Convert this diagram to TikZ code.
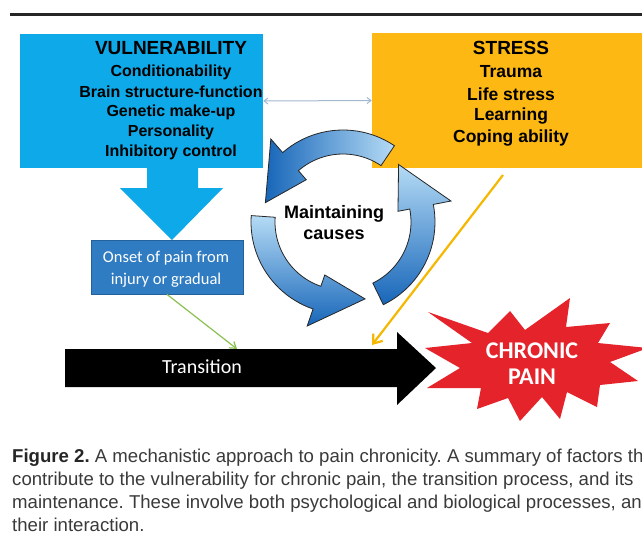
\documentclass[tikz,border=0pt]{standalone}
\usepackage{fontspec}
\setmainfont{Liberation Sans}
\newfontfamily\cali{Carlito}
\newfontfamily\capfont{Liberation Sans}
\usetikzlibrary{arrows.meta}
\definecolor{vblue}{HTML}{0DA9E8}
\definecolor{sorange}{HTML}{FDB814}
\definecolor{oblue}{HTML}{2F7CC2}
\definecolor{oborder}{HTML}{24609A}
\definecolor{cdark}{HTML}{1766B9}
\definecolor{clight}{HTML}{B5DBF5}
\definecolor{cred}{HTML}{E5232B}
\definecolor{gline}{HTML}{8CC152}
\definecolor{oline}{HTML}{F5B700}
\definecolor{dblue}{HTML}{A3B8CE}
\definecolor{captext}{HTML}{3A3A3A}
\newcommand\circarrow[2]{%
  \pgfmathsetmacro\aA{#1}\pgfmathsetmacro\aB{#1-75}\pgfmathsetmacro\aC{#1-110}%
  \shadedraw[#2, draw=black!85, line width=0.8pt, line join=miter]
    plot[domain=\aA:\aB, samples=25] ({343+92*cos(\x)},{222+92*sin(\x)})
    -- ({343+110*cos(\aB)},{222+110*sin(\aB)})
    -- ({343+80*cos(\aC)},{222+80*sin(\aC)})
    -- ({343+56*cos(\aB)},{222+56*sin(\aB)})
    -- plot[domain=\aB:\aA, samples=25] ({343+68*cos(\x)},{222+68*sin(\x)})
    -- cycle;}
\tikzset{
  boxtxt/.style={font=\bfseries\fontsize{16}{16}\selectfont, inner sep=0pt, anchor=center},
  boxtitle/.style={font=\bfseries\fontsize{19}{19}\selectfont, inner sep=0pt, anchor=center},
  stxt/.style={font=\bfseries\fontsize{17.5}{17.5}\selectfont, inner sep=0pt, anchor=center},
  captxt/.style={font=\capfont\fontsize{18.6}{18.6}\selectfont, text=captext, inner sep=0pt, anchor=base west},
}
\frenchspacing
\begin{document}
\begin{tikzpicture}[x=1pt,y=-1pt]
\useasboundingbox (0,0) rectangle (642,544);
\clip (0,0) rectangle (642,544);
\fill[white] (0,0) rectangle (642,544);
% top rule
\draw[line width=3pt, black!85] (10,14) -- (660,14);
% boxes
\node[fill=vblue, minimum width=243pt, minimum height=134pt, inner sep=0pt] (vuln) at (141.5,101) {};
\node[fill=sorange, minimum width=290pt, minimum height=135pt, inner sep=0pt] (stress) at (517,100.5) {};
\node[boxtitle] (v0) at (171,48) {VULNERABILITY};
\node[boxtxt] (v1) at (171,72) {Conditionability};
\node[boxtxt] (v2) at (171,92) {Brain structure-function};
\node[boxtxt] (v3) at (171,112) {Genetic make-up};
\node[boxtxt] (v4) at (171,132) {Personality};
\node[boxtxt] (v5) at (171,152) {Inhibitory control};
\node[boxtitle] (s0) at (511,48) {STRESS};
\node[stxt] (s1) at (511,72) {Trauma};
\node[stxt] (s2) at (511,94) {Life stress};
\node[stxt] (s3) at (511,116) {Learning};
\node[stxt] (s4) at (511,138) {Coping ability};
% double arrow between boxes
\draw[dblue, line width=1pt, {Straight Barb[length=4pt,width=6pt]}-{Straight Barb[length=4pt,width=6pt]}] (vuln.east) -- (stress.west);
% blue down arrow
\fill[vblue] (147,166) -- (198,166) -- (198,188) -- (223,188) -- (172,240) -- (120,188) -- (147,188) -- cycle;
% onset box
\node[fill=oblue, draw=oborder, line width=0.8pt, minimum width=152pt, minimum height=54pt, inner sep=0pt] (onset) at (167,267) {};
\node[font=\cali\fontsize{16.5}{22}\selectfont, text=white, align=center, inner sep=0pt] (onsettxt) at (166,269) {Onset of pain from\\injury or gradual};
% circular arrows
\circarrow{-56}{left color=cdark, right color=clight}
\circarrow{184}{top color=clight, bottom color=cdark}
\circarrow{64}{top color=clight, bottom color=cdark}
\node[font=\bfseries\fontsize{18}{21}\selectfont, align=center, inner sep=0pt] (maint) at (334,223) {Maintaining\\causes};
% black transition arrow
\fill[black] (65,349) -- (397,349) -- (397,332) -- (436,368) -- (397,405) -- (397,387) -- (65,387) -- cycle;
\node[font=\cali\fontsize{20}{20}\selectfont, text=white, inner sep=0pt] (trans) at (202,367) {Transition};
% chronic pain star
\fill[cred] (425,348) -- (472,343) -- (428,312) -- (488,333) -- (510,311) -- (525,330) -- (570,298) -- (566,327) -- (610,323) -- (598,343) -- (648,348) -- (610,362) -- (638,381) -- (600,385) -- (597,407) -- (567,392) -- (560,419) -- (542,397) -- (520,421) -- (508,398) -- (477,409) -- (481,388) -- (427,388) -- (460,368) -- cycle;
\node[font=\cali\bfseries\fontsize{24}{26}\selectfont, text=white, align=center, inner sep=0pt] (chronic) at (532,364) {CHRONIC\\PAIN};
% connectors
\coordinate (gend) at (237,349);
\coordinate (ostart) at (503,175);
\coordinate (oend) at (372,345);
\draw[gline, line width=1.2pt, -{Straight Barb[length=6pt,width=8pt]}] (onset.south) -- (gend);
\draw[oline, line width=2.2pt, -{Straight Barb[length=8pt,width=12pt]}] (ostart) -- (oend);
% caption
\node[captxt] (c1) at (12,462) {\textbf{\color{black!85}Figure 2.} A mechanistic approach to pain chronicity. A summary of factors that};
\node[captxt] (c2) at (12,485) {contribute to the vulnerability for chronic pain, the transition process, and its};
\node[captxt] (c3) at (12,508) {maintenance. These involve both psychological and biological processes, and};
\node[captxt] (c4) at (12,531) {their interaction.};
\end{tikzpicture}
\end{document}
